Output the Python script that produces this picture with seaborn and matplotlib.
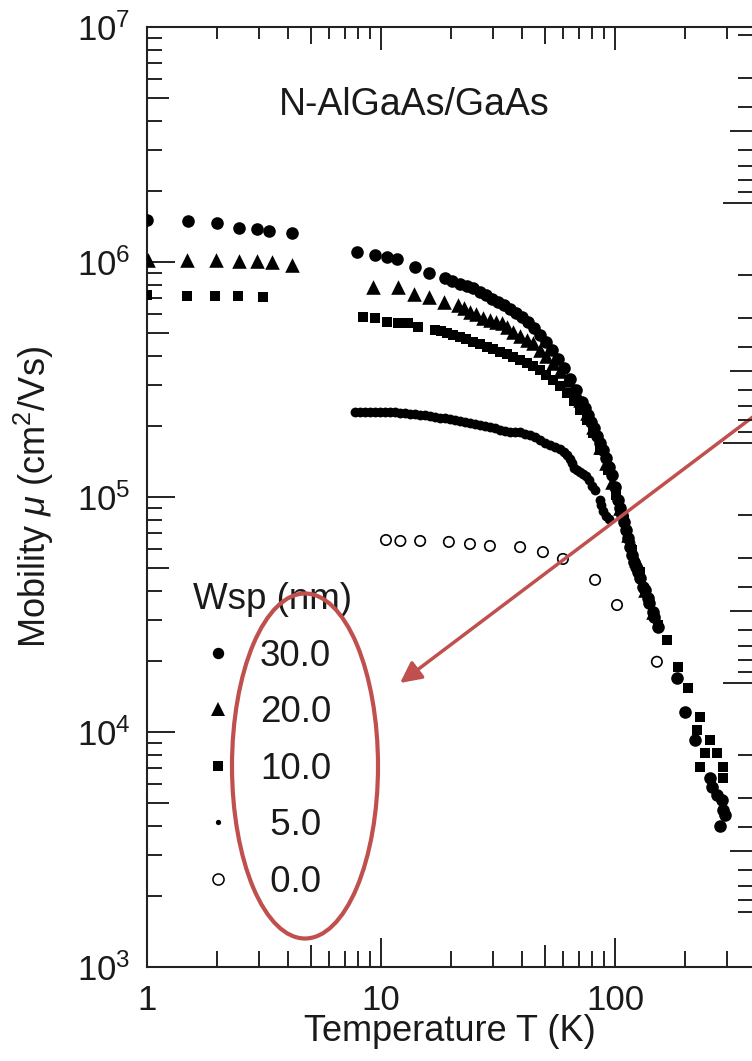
import matplotlib
matplotlib.use("Agg")
import matplotlib.pyplot as plt
import seaborn as sns
import numpy as np
from matplotlib.lines import Line2D
from matplotlib.patches import Ellipse
from matplotlib.ticker import FixedLocator, NullFormatter, LogLocator

# ---------------- data ----------------
T_30 = [1.0, 1.50, 1.99, 2.47, 2.95, 3.32, 4.17,
        7.9, 9.4, 10.6, 11.7, 14.0, 16.0, 18.8,
        20.1, 21.8, 23.3, 24.7, 26.5, 28.1, 29.8, 31.6, 33.5, 35.6,
        37.8, 40.1, 42.5, 45.1, 47.8, 50.7, 53.8, 57.1, 60.6, 64.2,
        68.1, 72.3, 76.7, 81.4, 86.3, 91.5, 97.1,
        103, 107, 111, 116, 121, 125, 132, 138, 145, 153,
        74.4, 79.0, 83.8, 88.8, 94.3, 100, 105, 109, 114, 118, 123, 128, 134, 140, 147,
        184, 199, 220, 255, 260, 273, 287, 289, 295, 282]
mu_30 = [1.51e6, 1.49e6, 1.47e6, 1.40e6, 1.38e6, 1.36e6, 1.33e6,
         1.10e6, 1.07e6, 1.05e6, 1.03e6, 9.5e5, 9.0e5, 8.55e5,
         8.30e5, 8.06e5, 7.91e5, 7.75e5, 7.45e5, 7.24e5, 6.96e5, 6.76e5, 6.56e5, 6.31e5,
         6.07e5, 5.83e5, 5.56e5, 5.24e5, 4.89e5, 4.57e5, 4.22e5, 3.87e5, 3.54e5, 3.18e5,
         2.85e5, 2.54e5, 2.23e5, 1.97e5, 1.70e5, 1.47e5, 1.24e5,
         9.71e4, 8.38e4, 7.24e4, 6.13e4, 5.29e4, 4.80e4, 4.14e4, 3.72e4, 3.24e4, 2.80e4,
         2.39e5, 2.09e5, 1.82e5, 1.58e5, 1.34e5, 1.10e5, 8.98e4, 7.83e4, 6.69e4, 5.67e4,
         5.04e4, 4.52e4, 4.02e4, 3.54e4, 3.09e4,
         1.70e4, 1.22e4, 9.25e3, 6.37e3, 5.83e3, 5.39e3, 5.14e3, 4.66e3, 4.44e3, 3.98e3]

T_20 = [1.01, 1.48, 1.97, 2.47, 2.95, 3.42, 4.17,
        9.24, 11.8, 13.8, 16.0, 18.6, 21.3, 22.6, 24.0, 25.5, 27.3,
        29.2, 31.0, 32.9, 34.6, 36.7, 39.3, 42.1, 44.6, 47.8, 50.7,
        54.3, 58.2, 62.4, 66.8, 70.9, 75.9, 80.5,
        86.3, 91.5, 97.1, 105, 114, 123, 134, 145]
mu_20 = [1.02e6, 1.02e6, 1.02e6, 1.01e6, 1.01e6, 1.0e6, 9.7e5,
         7.83e5, 7.83e5, 7.31e5, 7.10e5, 6.76e5, 6.56e5, 6.37e5, 6.13e5, 6.01e5, 5.78e5,
         5.67e5, 5.56e5, 5.50e5, 5.29e5, 5.04e5, 4.84e5, 4.66e5, 4.52e5, 4.22e5, 3.98e5,
         3.72e5, 3.44e5, 3.15e5, 2.85e5, 2.59e5, 2.28e5, 1.99e5,
         1.63e5, 1.40e5, 1.16e5, 8.98e4, 6.89e4, 5.39e4, 4.02e4, 3.24e4]

T_10 = [1.0, 1.48, 1.95, 2.45, 3.13,
        8.38, 9.43, 10.6, 11.8, 13.0, 14.4, 17.0, 18.1, 19.1, 20.3,
        21.8, 23.1, 24.7, 26.5, 28.4, 30.1, 32.3, 34.6, 36.7, 39.3,
        42.1, 44.6, 47.8, 50.7, 54.3, 58.2, 62.4, 66.8, 70.9, 75.9, 80.5,
        86.3, 93.3, 101, 109, 118, 128, 140, 153,
        167, 186, 205, 231, 224, 255, 243, 273, 231, 289, 289]
mu_10 = [7.24e5, 7.17e5, 7.17e5, 7.17e5, 7.10e5,
         5.83e5, 5.78e5, 5.56e5, 5.50e5, 5.50e5, 5.29e5, 5.14e5, 5.09e5, 4.99e5, 4.89e5,
         4.80e5, 4.70e5, 4.57e5, 4.48e5, 4.35e5, 4.26e5, 4.14e5, 4.06e5, 3.94e5, 3.83e5,
         3.72e5, 3.61e5, 3.47e5, 3.30e5, 3.15e5, 2.97e5, 2.77e5, 2.56e5, 2.35e5, 2.13e5, 1.87e5,
         1.58e5, 1.30e5, 1.02e5, 7.98e4, 5.95e4, 4.80e4, 3.65e4, 2.85e4,
         2.46e4, 1.89e4, 1.54e4, 1.16e4, 1.02e4, 9.25e3, 8.15e3, 8.15e3, 7.10e3, 7.10e3, 6.37e3]

T_5 = [7.74, 8.13, 8.54, 8.97, 9.43, 9.90, 10.4, 10.9, 11.5, 12.1,
       12.7, 13.3, 14.0, 14.7, 15.4, 16.2, 17.0, 17.9, 18.8, 19.7,
       20.7, 21.8, 22.9, 24.0, 25.2, 26.5, 27.8, 29.2, 30.7, 32.3,
       33.9, 35.6, 37.4, 39.3, 41.2, 43.3, 45.5, 47.8, 50.2, 52.8,
       55.4, 58.2, 60.6, 62.4, 64.2, 65.5, 66.8, 68.8, 70.9, 73.0,
       75.2, 77.4, 79.8, 82.1, 86.3, 87.2, 88.8, 91.5, 94.3]
mu_5 = [2.30e5, 2.30e5, 2.30e5, 2.30e5, 2.30e5, 2.30e5, 2.30e5, 2.30e5, 2.30e5, 2.28e5,
        2.28e5, 2.26e5, 2.26e5, 2.23e5, 2.23e5, 2.21e5, 2.19e5, 2.17e5, 2.17e5, 2.15e5,
        2.13e5, 2.11e5, 2.09e5, 2.06e5, 2.04e5, 2.02e5, 2.01e5, 1.99e5, 1.97e5, 1.93e5,
        1.91e5, 1.89e5, 1.89e5, 1.89e5, 1.85e5, 1.84e5, 1.80e5, 1.75e5, 1.70e5, 1.66e5,
        1.63e5, 1.60e5, 1.55e5, 1.51e5, 1.45e5, 1.40e5, 1.33e5, 1.30e5, 1.28e5, 1.25e5,
        1.23e5, 1.18e5, 1.11e5, 1.07e5, 9.71e4, 9.25e4, 8.72e4, 8.30e4, 8.06e4]

T_0 = [10.5, 12.1, 14.7, 19.5, 24.0, 29.2, 39.3, 49.2, 59.9, 82.2, 102, 151]
mu_0 = [6.56e4, 6.50e4, 6.50e4, 6.44e4, 6.31e4, 6.19e4, 6.12e4, 5.83e4, 5.45e4, 4.44e4, 3.47e4, 1.99e4]

legend_labels = ["30.0", "20.0", "10.0", " 5.0", " 0.0"]
legend_title = "Wsp (nm)"
sample_label = "N-AlGaAs/GaAs"
x_label = "Temperature T (K)"
y_label = r"Mobility $\mu$ (cm$^2$/Vs)"
x_ticks = [1, 10, 100]
x_ticklabels = ["1", "10", "100"]

# ---------------- style ----------------
sns.set_style("ticks")
plt.rcParams["font.family"] = ["Liberation Sans", "DejaVu Sans"]
plt.rcParams["mathtext.fontset"] = "custom"
plt.rcParams["mathtext.rm"] = "Liberation Sans"
plt.rcParams["mathtext.it"] = "Liberation Sans:italic"
plt.rcParams["mathtext.bf"] = "Liberation Sans:bold"

RED = "#BF504D"
INK = "#1a1a1a"
FS_TICK = 25
FS_LAB = 26
FS_TITLE = 27
FS_LEG = 26.5

fig = plt.figure(figsize=(7.52, 10.61), dpi=100)
fig.patch.set_facecolor("white")
L, B = 147 / 752, 1 - 967 / 1061
W, H = 1 - L, (967 - 27) / 1061
ax = fig.add_axes([L, B, W, H])
ax.set_facecolor("white")

sns.scatterplot(x=T_30, y=mu_30, marker="o", s=82, color="black", linewidth=0, ax=ax, zorder=3)
sns.scatterplot(x=T_20, y=mu_20, marker="^", s=110, color="black", linewidth=0, ax=ax, zorder=3)
sns.scatterplot(x=T_10, y=mu_10, marker="s", s=62, color="black", linewidth=0, ax=ax, zorder=3)
sns.scatterplot(x=T_5, y=mu_5, marker="o", s=50, color="black", linewidth=0, ax=ax, zorder=3)
sns.scatterplot(x=T_0, y=mu_0, marker="o", s=56, facecolors="none", edgecolors="black",
                linewidth=1.2, ax=ax, zorder=3)
coll = ax.collections[-1]
coll.set_facecolor("none")
coll.set_edgecolor("black")
coll.set_linewidth(1.2)

ax.set_xscale("log")
ax.set_yscale("log")
ax.set_xlim(1, 10 ** ((752 - 147) / 234))
ax.set_ylim(1e3, 1e7)

ax.xaxis.set_major_locator(FixedLocator(x_ticks))
ax.set_xticklabels(x_ticklabels)
ax.xaxis.set_minor_locator(LogLocator(base=10, subs=np.arange(2, 10)))
ax.xaxis.set_minor_formatter(NullFormatter())
ax.yaxis.set_major_locator(LogLocator(base=10, numticks=10))
ax.yaxis.set_minor_locator(LogLocator(base=10, subs=np.arange(2, 10), numticks=20))
ax.yaxis.set_minor_formatter(NullFormatter())

ax.tick_params(which="both", direction="in", top=True, right=False, width=1.4,
               color="#222222", labelsize=FS_TICK, labelcolor=INK)
ax.tick_params(which="major", length=20, pad=12)
ax.tick_params(which="minor", length=11)
for side in ["left", "top", "bottom"]:
    ax.spines[side].set_linewidth(1.5)
    ax.spines[side].set_color("#222222")
ax.spines["right"].set_visible(False)

ax.set_xlabel(x_label, fontsize=FS_LAB, color=INK)
ax.set_ylabel(y_label, fontsize=FS_LAB, color=INK)
ax.xaxis.set_label_coords(0.5, -0.050)
ax.yaxis.set_label_coords(-0.150, 0.5)

ax.text(0.441, 0.917, sample_label, transform=ax.transAxes, ha="center", va="center",
        fontsize=FS_TITLE, color=INK)

# legend
handles = [
    Line2D([], [], ls="none", marker="o", color="black", markersize=8.2, markeredgewidth=0),
    Line2D([], [], ls="none", marker="^", color="black", markersize=10.5, markeredgewidth=0),
    Line2D([], [], ls="none", marker="s", color="black", markersize=7.6, markeredgewidth=0),
    Line2D([], [], ls="none", marker="o", color="black", markersize=3.8, markeredgewidth=0),
    Line2D([], [], ls="none", marker="o", markerfacecolor="none", markeredgecolor="black",
           markersize=8.0, markeredgewidth=1.1),
]
leg = ax.legend(handles, legend_labels, title=legend_title, loc="upper left",
                bbox_to_anchor=((193 - 147) / 605, 1 - (582 - 27) / 940),
                frameon=False, fontsize=FS_LEG, title_fontsize=FS_LEG, handlelength=1.35,
                handletextpad=0.47, labelspacing=0.585, borderpad=0, borderaxespad=0,
                alignment="left")
for t in leg.get_texts():
    t.set_color(INK)
leg.get_title().set_color(INK)

# right-hand tick marks (neighbouring inverted log axis)
ax2 = ax.twinx()
ax2.set_yscale("log")
ax2.set_ylim(10 ** ((967 - 203) / 240), 10 ** ((27 - 203) / 240))
ax2.yaxis.set_major_locator(FixedLocator([1, 10, 100]))
minor_r = [k * 10.0 ** e for e in (-1, 0, 1, 2) for k in range(2, 10)]
ax2.yaxis.set_minor_locator(FixedLocator(minor_r))
ax2.yaxis.set_major_formatter(NullFormatter())
ax2.yaxis.set_minor_formatter(NullFormatter())
ax2.tick_params(which="both", direction="in", left=False, right=True, labelright=False,
                width=1.4, color="#222222")
ax2.tick_params(which="major", length=21)
ax2.tick_params(which="minor", length=10)
for s in ax2.spines.values():
    s.set_visible(False)

# red annotations
ell = Ellipse((305 / 752, 1 - 766 / 1061), 146 / 752, 345 / 1061, transform=fig.transFigure,
              fill=False, ec=RED, lw=3)
fig.add_artist(ell)
ax.annotate("", xy=(400 / 752, 1 - 683 / 1061), xycoords="figure fraction",
            xytext=(770 / 752, 1 - 404 / 1061), textcoords="figure fraction",
            arrowprops=dict(arrowstyle="-|>", color=RED, lw=2.5, mutation_scale=32,
                            shrinkA=0, shrinkB=0), annotation_clip=False)

# per-tick lengths (5x minor ticks are longer, top ticks shorter)
fig.canvas.draw()


def is_five(v):
    m = v / 10 ** np.floor(np.log10(v) + 1e-9)
    return abs(m - 5) < 1e-6


for t in ax.yaxis.get_minor_ticks():
    if is_five(t.get_loc()):
        t.tick1line.set_markersize(16)
for t in ax.xaxis.get_major_ticks():
    t.tick1line.set_markersize(21)
    t.tick2line.set_markersize(16.5)
for t in ax.xaxis.get_minor_ticks():
    if is_five(t.get_loc()):
        t.tick1line.set_markersize(16)
        t.tick2line.set_markersize(12)
    else:
        t.tick1line.set_markersize(11.5)
        t.tick2line.set_markersize(8.5)
for t in ax2.yaxis.get_minor_ticks():
    if is_five(t.get_loc()):
        t.tick2line.set_markersize(16)

fig.savefig("out.png", dpi=100, facecolor="white")
